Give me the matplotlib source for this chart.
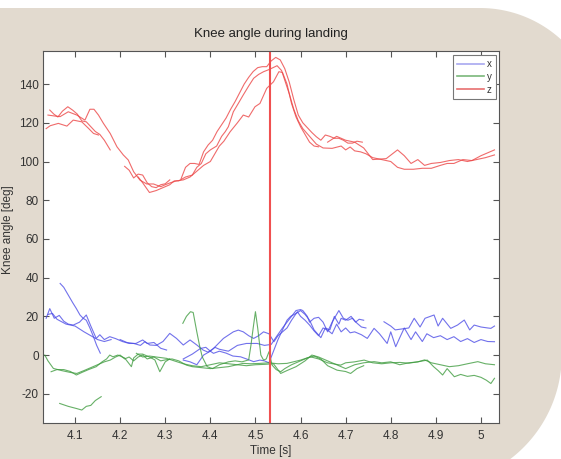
import numpy as np
import matplotlib
matplotlib.use("Agg")
import matplotlib.pyplot as plt
from matplotlib.patches import Polygon
from matplotlib.lines import Line2D

plt.rcParams['font.family'] = ['Liberation Sans', 'DejaVu Sans']
plt.rcParams['axes.unicode_minus'] = False

nan = np.nan

# ---------------- data ----------------
# z (red)
z1_t = [4.044, 4.053, 4.062, 4.072, 4.084, 4.095, 4.105, 4.115, 4.125, 4.135, 4.145, 4.155, 4.165, 4.178, nan,
        4.21, 4.22, 4.23, 4.24, 4.25, 4.26, 4.27, 4.28, 4.29, 4.30, 4.31, nan,
        4.335, 4.345, 4.355, 4.365, 4.375, 4.385, 4.395, 4.405, 4.415, 4.425, 4.435, 4.445, 4.455, 4.465, 4.475,
        4.485, 4.495, 4.505, 4.515, 4.525, 4.535, 4.545, 4.555, 4.565, 4.575, 4.585, 4.595, 4.605, 4.615, 4.625,
        4.635, 4.645, 4.655, 4.665, 4.675, 4.685, 4.695, 4.705, 4.715, 4.725, 4.737]
z1_v = [126.6, 124.5, 123, 126, 128.3, 126.5, 124.5, 121, 120.5, 118, 115.5, 114, 111, 106, nan,
        97.5, 95.5, 91.5, 93.5, 93, 89, 87, 86.5, 88, 88.5, 90.5, nan,
        91, 97, 99, 99, 98.5, 105, 108.5, 111, 115.5, 119, 122.5, 127, 131, 135.5, 140,
        143.5, 146.5, 148.5, 149, 149, 152, 153.8, 152.5, 148, 141, 132, 124, 120, 117.5, 115,
        112.8, 111, 113.7, 113, 112, 112, 111, 109.5, 109.5, 110.5, 110]

z2_t = [4.036, 4.045, 4.063, 4.082, 4.096, 4.115, 4.13, 4.141, 4.152, nan,
        4.24, 4.25, 4.265, 4.28, 4.295, 4.31, 4.32, 4.33, 4.345, 4.36, 4.37, 4.38, 4.39, 4.40, 4.414, 4.425,
        4.433, 4.44, 4.451, 4.462, 4.473, 4.485, 4.496, 4.507, 4.518, 4.53, 4.548, 4.558, 4.565, 4.575, 4.585,
        4.595, 4.605, 4.62, 4.635, 4.65, 4.67, 4.69, 4.70, 4.71, 4.72, 4.733, 4.745, 4.76, 4.78, 4.80, 4.815,
        4.83, 4.85, 4.87, 4.89, 4.91, 4.925, 4.94, 4.96, 4.98, 5.0, 5.015, 5.03]
z2_v = [117, 118.5, 119.7, 118.3, 121.4, 120.5, 117.1, 114.5, 113.7, nan,
        92, 89, 84, 85, 86.5, 88, 90, 90, 92, 93, 97, 99, 104, 106, 108, 113,
        115.4, 118, 125.7, 130, 134.4, 139, 143, 145, 146.4, 147.5, 149.5, 147, 142, 135, 127,
        121, 117, 113, 109, 107, 106.8, 108, 106, 107.5, 105.5, 105, 104, 102, 101, 100, 97,
        96, 96, 96.5, 96.5, 98, 99, 99, 101, 100.5, 103, 104.5, 106]

z3_t = [4.04, 4.055, 4.067, 4.085, 4.104, 4.122, 4.133, 4.142, 4.152, 4.163, 4.178, 4.193, 4.207, 4.218,
        4.23, 4.244, 4.259, 4.274, 4.29, 4.30, 4.311, 4.325, 4.34, 4.355, 4.37, 4.385, 4.40, 4.41, 4.42,
        4.43, 4.444, 4.46, 4.473, 4.485, 4.499, 4.51, 4.525, 4.54, 4.552, 4.56, 4.57, 4.58, 4.59, 4.60,
        4.61, 4.62, 4.63, 4.64, nan,
        4.66, 4.68, 4.70, 4.72, 4.74, 4.76, 4.79, 4.815, 4.83, 4.845, 4.86, 4.875, 4.89, 4.91, 4.93,
        4.95, 4.97, 4.99, 5.01, 5.03]
z3_v = [124, 123.5, 123.2, 125.7, 124, 121.4, 127, 127, 124, 119.7, 114.5, 107.6, 103.4, 100.8,
        94.7, 90.4, 88.4, 88.4, 87, 88, 89, 90, 90.5, 92, 95, 98, 100, 104, 108,
        110.5, 115.4, 120, 124, 123, 128.3, 130, 137.8, 141.2, 146.4, 146, 140, 130, 123, 118,
        114, 110, 108, 107.6, nan,
        110, 113, 111, 110, 107, 101, 101.5, 106, 103, 99, 101, 98, 99, 99.5, 100.5,
        101, 100, 101, 102, 103.4]

# x (blue)
x1_t = [4.067, 4.075, 4.085, 4.095, 4.103, 4.111, 4.118, 4.125, 4.133, 4.14, 4.148, 4.156, nan,
        4.20, 4.215, 4.23, 4.245, 4.255, 4.266, 4.28, 4.295, 4.31, 4.325, 4.34, 4.355, 4.37, 4.384, 4.395,
        4.407, 4.418, 4.429, 4.44, 4.451, 4.462, 4.473, 4.485, 4.496, 4.507, 4.518, 4.53, 4.541, 4.55, 4.56,
        4.57, 4.58, 4.593, 4.60, 4.61, 4.62, 4.63, 4.64, 4.65, 4.66, 4.67, 4.68, 4.69, 4.70, 4.71, 4.72,
        4.735, 4.748, 4.763, 4.775, 4.792, 4.80, 4.811, 4.82, 4.83, 4.845, 4.855, 4.87, 4.88, 4.895, 4.91,
        4.925, 4.94, 4.955, 4.97, 4.985, 5.0, 5.015, 5.03]
x1_v = [37, 35, 31, 27, 24, 20.7, 19, 18, 14, 10, 5, 1, nan,
        8, 6.5, 6, 5, 6.9, 5.2, 5, 7, 11.2, 8.6, 5.2, 7.8, 5.2, 2.6, 1.5,
        3.4, 6, 8.6, 10.3, 12, 12.9, 12, 10, 8.6, 10, 12, 11, 6.9, 10, 12,
        14, 18, 22.4, 20, 18, 15.5, 12.5, 10, 14, 12.9, 11, 16, 12, 14, 11.5, 12,
        10.5, 8.6, 13.8, 11, 6, 12, 4.3, 9, 14, 8, 12, 7, 11, 9, 10,
        8, 9.5, 7, 8.5, 6.5, 8, 7, 6.9]

x2_t = [4.036, 4.044, 4.054, 4.065, 4.075, 4.085, 4.096, 4.11, 4.125, 4.135, 4.147, 4.155, 4.165, 4.177,
        4.19, 4.205, 4.22, 4.235, 4.25, 4.26, 4.275, 4.29, 4.303, nan,
        4.34, 4.355, 4.37, 4.385, 4.40, 4.407, 4.42, 4.435, 4.45, 4.467, 4.48, 4.496, 4.51, 4.52, 4.53,
        4.54, 4.55, 4.56, 4.57, 4.578, 4.59, 4.60, 4.61, 4.62, 4.63, 4.645, 4.655, 4.665, 4.675, 4.685,
        4.69, 4.70, 4.712, 4.722, 4.73, 4.74]
x2_v = [19, 24, 19, 20.5, 17.5, 16, 15.5, 17, 20.7, 15, 8.6, 10.5, 8, 9.5,
        8.5, 7, 6, 6, 7.8, 6, 6.5, 3.5, 2.6, nan,
        -2.6, -3.5, -5, 0, 2, 0.9, 2, 1, -0.5, -0.9, -2, -3.4, -2.6, -3, -4,
        2, 8, 13, 18, 20, 21.5, 23, 21, 18, 13, 9, 14, 13, 20, 16,
        19, 18, 20, 17, 18.5, 18]

x3_t = [4.04, 4.05, 4.06, 4.08, 4.10, 4.12, 4.135, 4.15, 4.165, 4.18, nan,
        4.34, 4.36, 4.378, 4.39, 4.40, 4.41, 4.42, 4.44, 4.46, 4.48, 4.504, 4.52, 4.535, 4.545, 4.56, 4.57,
        4.58, 4.59, 4.60, 4.605, 4.615, 4.62, 4.63, 4.64, 4.65, 4.66, 4.67, 4.685, 4.695, 4.705, 4.715,
        4.725, 4.735, 4.745, nan,
        4.785, 4.80, 4.81, 4.825, 4.84, 4.852, 4.865, 4.876, 4.896, 4.905, 4.915, 4.933, 4.948, 4.963,
        4.975, 4.985, 5.0, 5.015, 5.022, 5.03]
x3_v = [21, 21.5, 18.5, 16, 15, 12, 10, 8, 7, 8, nan,
        -2, 0.5, 3.4, 4, 2, 4, 3, 2, 5, 6, 6, 5, 5.5, 9, 14, 17,
        20, 23, 23.5, 23, 20, 17, 19, 19.5, 17, 12, 17, 23, 19, 18, 19,
        16.5, 14.5, 14, nan,
        17.2, 15, 13, 13.5, 14, 19, 14.5, 19, 20.7, 15, 19, 13.8, 15.5, 18.1,
        13, 15.5, 14.5, 14, 13.8, 15]

# y (green)
y1_t = [4.033, 4.04, 4.052, 4.07, 4.09, 4.104, 4.12, 4.135, 4.148, 4.165, 4.178, 4.19, 4.2, 4.21, 4.22,
        4.23, 4.24, 4.25, 4.26, 4.275, 4.29, 4.30, 4.315, 4.33, 4.347, 4.36, 4.38, 4.40, 4.42, 4.44, 4.473,
        4.49, 4.51, 4.53, 4.55, 4.57, 4.6, 4.622, 4.64, 4.66, 4.689, 4.70, 4.72, 4.741, 4.76, 4.78, 4.80,
        4.82, 4.84, 4.86, 4.875, 4.89, 4.91, 4.93, 4.95, 4.97, 4.993, 5.01, 5.03]
y1_v = [0, -3, -6.9, -8, -9, -9.5, -8, -6.5, -5.2, -3.5, -2.6, -1, 0, -2, -1,
        -3, -1, 0, -2, -1, -3, -2.5, -2, -3, -5.2, -6, -6.5, -7, -6.5, -6, -4.3,
        -4.5, -4.3, -4, -4.5, -4.3, -2.6, -0.9, -2, -4, -5.2, -4, -3.5, -2.6, -4, -4.5, -4,
        -3.8, -4.2, -3.5, -2.5, -4, -5, -6, -5.5, -4.5, -3.4, -4.5, -5]

y2_t = [4.047, 4.06, 4.075, 4.09, 4.103, 4.115, 4.13, 4.147, 4.16, 4.17, 4.177, 4.184, 4.195, 4.21,
        4.225, 4.23, 4.24, 4.25, 4.265, 4.277, 4.288, 4.30, 4.31, nan,
        4.339, 4.347, 4.356, 4.362, 4.37, 4.376, 4.382, 4.393, 4.405, 4.42, 4.44, 4.455, 4.47, 4.485,
        4.49, 4.495, 4.50, 4.505, 4.512, 4.518, 4.524, 4.53, 4.537, 4.546, 4.556, 4.565, 4.58, 4.60,
        4.615, 4.63, 4.645, 4.66, 4.681, 4.70, 4.711, 4.725, 4.74]
y2_v = [-8.6, -7.5, -7.5, -8.5, -10.3, -9, -7.5, -6, -3.5, -2, 0, -0.9, 0, -1.5,
        -6, -1.5, 0.5, 0.5, -1, -2.5, -8.6, -3.5, -2, nan,
        16.4, 20, 22.4, 22, 12, 5, -0.9, -6, -7, -5, -3.5, -3, -3.5, -2.5,
        5, 14, 22.4, 14, 0, -2.6, -2, 1.7, -5.2, -7.5, -8.6, -7, -5, -3,
        -1.5, -0.5, -2, -5.5, -7.8, -8.5, -9.5, -7, -5.5]

y3_t = [4.066, 4.085, 4.103, 4.115, 4.125, 4.135, 4.145, 4.158, nan,
        4.236, 4.25, 4.265, 4.28, 4.303, 4.32, 4.34, 4.36, 4.38, 4.40, 4.42, 4.44, 4.46, 4.48, 4.50,
        4.52, 4.54, 4.556, 4.57, 4.59, 4.61, 4.625, 4.64, 4.66, 4.68, 4.70, 4.72, 4.74, 4.763, 4.78,
        4.80, 4.82, 4.84, 4.86, 4.881, 4.895, 4.905, 4.915, 4.925, 4.941, 4.955, 4.97, 4.985, 5.0,
        5.012, 5.022, 5.03]
y3_v = [-25, -26.5, -27.6, -28.4, -26.5, -26, -23.5, -21.5, nan,
        0.9, -1, -0.5, -1, -1.7, -3, -4.5, -5.5, -6, -5, -4, -4.5, -5, -5.5, -5,
        -4.8, -4.5, -9.5, -8, -6, -3, 0, -1, -3, -5, -7, -5, -4, -3.4, -4,
        -3.5, -5, -4, -3.5, -2.6, -6, -8, -10.3, -7, -11.2, -10, -11, -10.5, -11.5,
        -13, -14.7, -12]

event_time = 4.532

x_ticks = [4.1, 4.2, 4.3, 4.4, 4.5, 4.6, 4.7, 4.8, 4.9, 5.0]
x_tick_labels = ['4.1', '4.2', '4.3', '4.4', '4.5', '4.6', '4.7', '4.8', '4.9', '5']
y_ticks = [-20, 0, 20, 40, 60, 80, 100, 120, 140]
y_tick_labels = ['-20', '0', '20', '40', '60', '80', '100', '120', '140']
legend_labels = ['x', 'y', 'z']

# ---------------- figure ----------------
W, H = 561, 459
fig = plt.figure(figsize=(W / 100, H / 100), dpi=100, facecolor='white')

# beige rounded background (pixel coords, y down)
pts = [(-5, 8)]
R1, c1 = 120, (480, 128)
phi = np.linspace(0, np.arcsin(81 / 120), 30)
pts += [(c1[0] + R1 * np.sin(p), c1[1] - R1 * np.cos(p)) for p in phi]
R2, c2 = 130.8, (431, 355)
psi = np.linspace(np.arccos(min(1, 130 / R2)), np.arcsin(104 / R2), 40)
pts += [(c2[0] + R2 * np.cos(p), c2[1] + R2 * np.sin(p)) for p in psi]
pts += [(c2[0] + R2 * np.cos(psi[-1]), 470), (-5, 470)]
pts_fig = [(px / W, 1 - py / H) for px, py in pts]
bg = Polygon(pts_fig, closed=True, transform=fig.transFigure, facecolor='#e2dacf',
             edgecolor='none', zorder=-10)
fig.patches.append(bg)

ax = fig.add_axes([43 / W, 1 - 423 / H, (499 - 43) / W, (423 - 51) / H])
ax.set_zorder(5)
ax.set_facecolor('white')

blue = '#4a4ae6'
green = '#3c9a3c'
red = '#ec4646'
lw = 0.8
for t, v in [(x1_t, x1_v), (x2_t, x2_v), (x3_t, x3_v)]:
    ax.plot(t, v, color=blue, lw=lw, alpha=0.78)
for t, v in [(y1_t, y1_v), (y2_t, y2_v), (y3_t, y3_v)]:
    ax.plot(t, v, color=green, lw=lw, alpha=0.78)
for t, v in [(z1_t, z1_v), (z2_t, z2_v), (z3_t, z3_v)]:
    ax.plot(t, v, color=red, lw=lw, alpha=0.8)

ax.axvline(event_time, color='#f05050', lw=1.5)

ax.set_xlim(4.029, 5.04)
ax.set_ylim(-35.1, 157.1)
ax.set_xticks(x_ticks)
ax.set_xticklabels(x_tick_labels)
ax.set_yticks(y_ticks)
ax.set_yticklabels(y_tick_labels)
ax.tick_params(direction='in', length=4, width=0.8, top=True, right=True,
               labelsize=8.5, colors='#555555', labelcolor='#333333')
ax.tick_params(axis='x', pad=5)
ax.tick_params(axis='y', pad=3)
for s in ax.spines.values():
    s.set_color('#555555')
    s.set_linewidth(0.8)

ax.set_title('Knee angle during landing', fontsize=9.5, color='#222222', pad=10)
ax.set_xlabel('Time [s]', fontsize=8.5, color='#333333', labelpad=2)
ax.set_ylabel('Knee angle [deg]', fontsize=8.5, color='#333333')
ax.yaxis.set_label_coords((14 - 43) / 456, 0.52)

handles = [Line2D([], [], color='#a8a8f0', lw=1.2),
           Line2D([], [], color='#7ab87a', lw=1.2),
           Line2D([], [], color='#e87070', lw=1.2)]
leg = ax.legend(handles, legend_labels, loc='upper right', bbox_to_anchor=(0.993, 0.989),
                borderaxespad=0, fontsize=7, handlelength=2.8, handletextpad=0.3,
                labelspacing=0.3, borderpad=0.4, fancybox=False, framealpha=1,
                edgecolor='#777777')
leg.get_frame().set_linewidth(0.8)
for txt in leg.get_texts():
    txt.set_color('#333333')

fig.savefig('out.png', dpi=100, facecolor='white')
